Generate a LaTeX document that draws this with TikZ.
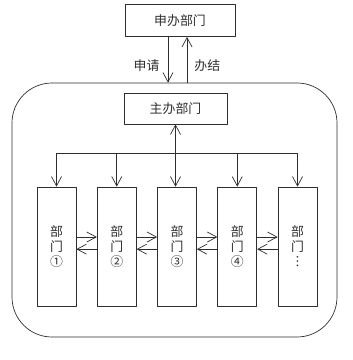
\documentclass[tikz,border=0pt]{standalone}
\usepackage{fontspec}
\newfontfamily\cjk{Noto Sans CJK SC}
\usetikzlibrary{positioning, arrows.meta, calc}
\definecolor{figink}{HTML}{2E2E2E}

\begin{document}
\begin{tikzpicture}[
  x=0.03cm, y=-0.03cm,
  line width=0.6pt, line join=round,
  color=figink,
  >={Straight Barb[length=2.8mm, width=3mm]},
  cn/.style    = {font={\cjk\fontsize{11}{12.8}\selectfont}},
  blk/.style   = {cn, draw, minimum height=0.96cm, inner sep=2pt, anchor=center},
  dept/.style  = {cn, draw, minimum width=1.17cm, minimum height=3.57cm,
                  inner sep=0pt, align=center, anchor=center},
  org/.style   = {draw, rounded corners=1.2cm, minimum width=9.75cm,
                  minimum height=7.62cm, anchor=center},
  lbl/.style   = {cn, inner sep=1pt}
]
\useasboundingbox (0,0) rectangle (352,360);

% 外框与主办部门
\node[org] (org) at (174.5,210) {};
\node[blk, minimum width=3.3cm] (apply) at (180,20.5) {申办部门};
\node[blk, minimum width=3.09cm, minimum height=0.93cm] (host) at (175.5,108.5) {主办部门};

% 申请 / 办结
\draw[->] ([xshift=-0.36cm]apply.south) -- node[lbl, left=6pt, pos=0.62] {申请}
  ([xshift=-0.36cm]apply.south |- org.north);
\draw[->] ([xshift=0.21cm]apply.south |- org.north) -- node[lbl, right=5pt, pos=0.38] {办结}
  ([xshift=0.21cm]apply.south);

% 各部门
\foreach \i/\t in {1/①, 2/②, 3/③, 4/④, 5/︙}
  \node[dept] (d\i) at ({56.5+60.25*(\i-1)},246.5) {部\\门\\\t};

% 分发总线
\coordinate (bus) at (176.5,153);
\draw (d1.north |- bus) -- (d5.north |- bus);
\draw[<->] (host.south) -- (host.south |- d3.north);
\foreach \i in {1,2,4,5}
  \draw[->] (d\i.north |- bus) -- (d\i.north);

% 部门之间往来
\foreach \i [evaluate=\i as \j using int(\i+1)] in {1,...,4} {
  \draw[->] ([yshift=0.285cm]d\i.east) -- ([yshift=0.285cm]d\j.west);
  \draw[->] ([yshift=-0.08cm]d\j.west) -- ([yshift=-0.08cm]d\i.east);
}

\end{tikzpicture}
\end{document}
